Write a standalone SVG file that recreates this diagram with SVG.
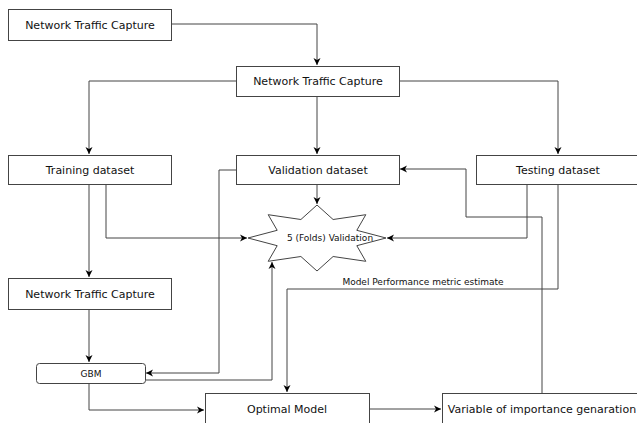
<svg xmlns="http://www.w3.org/2000/svg" width="637" height="423" viewBox="0 0 637 423">
<style>
.box{fill:#fff;stroke:#444;stroke-width:1}
.t{font-family:"DejaVu Sans",sans-serif;font-size:11px;fill:#111;text-anchor:middle}
.s{font-family:"DejaVu Sans",sans-serif;font-size:9px;fill:#111;text-anchor:middle}
.c{fill:none;stroke:#444;stroke-width:1}
</style>
<defs>
<marker id="ah" markerWidth="8" markerHeight="8" refX="7" refY="4" orient="auto" markerUnits="userSpaceOnUse">
<path d="M0,0.5 L7,4 L0,7.5 L2,4 z" fill="#000"/>
</marker>
</defs>
<rect width="637" height="423" fill="#fff"/>
<g id="connectors">
<polyline class="c" points="171,24 317,24 317,65" marker-end="url(#ah)"/>
<polyline class="c" points="236,81 89,81 89,154" marker-end="url(#ah)"/>
<polyline class="c" points="317,96 317,154" marker-end="url(#ah)"/>
<polyline class="c" points="399,81 558,81 558,154" marker-end="url(#ah)"/>
<polyline class="c" points="106,184 106,238 247,238" marker-end="url(#ah)"/>
<polyline class="c" points="317,184 317,204" marker-end="url(#ah)"/>
<polyline class="c" points="527,184 527,238 387,238" marker-end="url(#ah)"/>
<polyline class="c" points="89,184 89,277" marker-end="url(#ah)"/>
<polyline class="c" points="89,309 89,362" marker-end="url(#ah)"/>
<polyline class="c" points="236,170 219,170 219,373 146,373" marker-end="url(#ah)"/>
<polyline class="c" points="145,380 272,380 272,262" marker-end="url(#ah)"/>
<polyline class="c" points="89,383 89,410 204,410" marker-end="url(#ah)"/>
<polyline class="c" points="369,409 441,409" marker-end="url(#ah)"/>
<polyline class="c" points="542,393 542,217 466,217 466,169 400,169" marker-end="url(#ah)"/>
<polyline class="c" points="558,184 558,289 287,289 287,392" marker-end="url(#ah)"/>
<text class="s" x="423" y="285">Model Performance metric estimate</text>
</g>
<g id="capture1"><rect class="box" x="8.5" y="9.5" width="163" height="31"/><text class="t" x="90" y="28.5">Network Traffic Capture</text></g>
<g id="capture2"><rect class="box" x="236.5" y="66.5" width="163" height="30"/><text class="t" x="318" y="85">Network Traffic Capture</text></g>
<g id="training"><rect class="box" x="8.5" y="155.5" width="163" height="29"/><text class="t" x="90" y="174">Training dataset</text></g>
<g id="validation"><rect class="box" x="236.5" y="155.5" width="163" height="29"/><text class="t" x="318" y="174">Validation dataset</text></g>
<g id="testing"><rect class="box" x="476.5" y="155.5" width="164" height="29"/><text class="t" x="558" y="174">Testing dataset</text></g>
<g id="folds"><polygon class="box" points="386,238 356.8,230.3 365.8,214.7 333.1,219.5 317,205 300.9,219.5 268.2,214.7 277.2,230.3 248,238 277.2,245.7 268.2,261.3 300.9,256.5 317,271 333.1,256.5 365.8,261.3 356.8,245.7"/><text class="s" x="330" y="241">5 (Folds) Validation</text></g>
<g id="capture3"><rect class="box" x="8.5" y="278.5" width="163" height="31"/><text class="t" x="90" y="297.5">Network Traffic Capture</text></g>
<g id="gbm"><rect class="box" x="36.5" y="363.5" width="109" height="20" rx="3"/><text class="s" x="91" y="376.5">GBM</text></g>
<g id="optimal"><rect class="box" x="205.5" y="393.5" width="164" height="40"/><text class="t" x="287" y="413">Optimal Model</text></g>
<g id="variable"><rect class="box" x="442.5" y="393.5" width="200" height="40"/><text class="t" x="542" y="413">Variable of importance genaration</text></g>
</svg>
